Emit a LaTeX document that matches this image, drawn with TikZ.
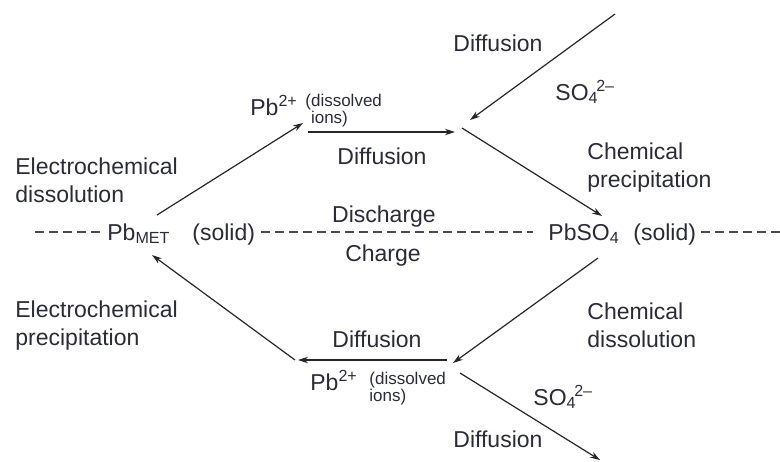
\documentclass[tikz,border=0pt]{standalone}
\usepackage{fontspec}
\setmainfont{Liberation Sans}
\usetikzlibrary{arrows.meta,calc}
\definecolor{ink}{HTML}{2B2B38}

\begin{document}
\begin{tikzpicture}[x=0.5pt,y=-0.5pt,
    lbl/.style={inner sep=0pt,text=ink,align=left,font=\fontsize{11.5}{14}\selectfont},
    ion/.style={inner sep=0pt,text=ink,align=left,font=\fontsize{8.5}{8.5}\selectfont},
    flow/.style={draw=black!85,line width=0.6pt,-{Stealth[length=5pt,width=3.2pt]}},
    phase/.style={draw=black!70,line width=0.7pt,dash pattern=on 4.5pt off 2.5pt}]
    \useasboundingbox (0,0) rectangle (780,461);

    \node[lbl,anchor=north west] (eldiss) at (15,157) {Electrochemical\\dissolution};
    \node[lbl,anchor=north west] (elprec) at (15,300) {Electrochemical\\precipitation};
    \node[lbl,anchor=north west] (chprec) at (587,142) {Chemical\\precipitation};
    \node[lbl,anchor=north west] (chdiss) at (587,302) {Chemical\\dissolution};
    \node[lbl,anchor=north] (discharge) at (384,205) {Discharge};
    \node[lbl,anchor=north] (charge) at (383,244) {Charge};

    \node[lbl,anchor=north west] (diffA) at (453,34) {Diffusion};
    \node[lbl,anchor=north west] (sulfA) at (555,80) {SO\textsubscript{4}\kern-0.1em\textsuperscript{2\textendash}};
    \node[lbl,anchor=north] (diffB) at (382,147) {Diffusion};
    \node[lbl,anchor=north] (diffC) at (377,330) {Diffusion};
    \node[lbl,anchor=north west] (sulfB) at (533,385) {SO\textsubscript{4}\kern-0.1em\textsuperscript{2\textendash}};
    \node[lbl,anchor=north west] (diffD) at (453,430) {Diffusion};

    \node[lbl,anchor=base west] (pbup) at (250,115) {Pb\textsuperscript{2+}};
    \node[ion,anchor=north west] (ionsup) at (305,94) {(dissolved\\\phantom{(}ions)};
    \node[lbl,anchor=base west] (pbdown) at (310,390) {Pb\textsuperscript{2+}};
    \node[ion,anchor=north west] (ionsdown) at (369,372) {(dissolved\\ions)};

    \node[lbl,anchor=base west] (pbmet) at (107,240) {Pb\textsubscript{MET}};
    \node[lbl,anchor=base west] (solidA) at (192,240) {(solid)};
    \node[lbl,anchor=base west] (pbso) at (548,240) {PbSO\textsubscript{4}};
    \node[lbl,anchor=base west] (solidB) at (633,240) {(solid)};

    \coordinate (dl) at (35,232);
    \coordinate (dr) at (780,232);
    \draw[phase] (dl) -- ($(pbmet.west|-dl)+(-4,0)$);
    \draw[phase] ($(solidA.east|-dl)+(6,0)$) -- ($(pbso.west|-dl)+(-15,0)$);
    \draw[phase] ($(solidB.east|-dl)+(5,0)$) -- (dr);

    \coordinate (metout) at (157,215);
    \coordinate (ionin) at (303,123);
    \coordinate (ionout) at (308,132);
    \coordinate (meetup) at (455,132);
    \coordinate (sulfsrc) at (615,14);
    \coordinate (sulfin) at (470,120);
    \coordinate (precout) at (462,128);
    \coordinate (pbsoin) at (602,216);
    \coordinate (pbsoout) at (598,258);
    \coordinate (meetdown) at (453,363);
    \coordinate (ionsrc) at (447,360);
    \coordinate (iondest) at (298,360);
    \coordinate (platout) at (295,360);
    \coordinate (metin) at (152,255);
    \coordinate (sulfout) at (460,373);
    \coordinate (sulfsink) at (600,460);

    \draw[flow] (metout) -- (ionin);
    \draw[flow] (ionout) -- (meetup);
    \draw[flow] (sulfsrc) -- (sulfin);
    \draw[flow] (precout) -- (pbsoin);
    \draw[flow] (pbsoout) -- (meetdown);
    \draw[flow] (ionsrc) -- (iondest);
    \draw[flow] (platout) -- (metin);
    \draw[flow] (sulfout) -- (sulfsink);
\end{tikzpicture}
\end{document}
